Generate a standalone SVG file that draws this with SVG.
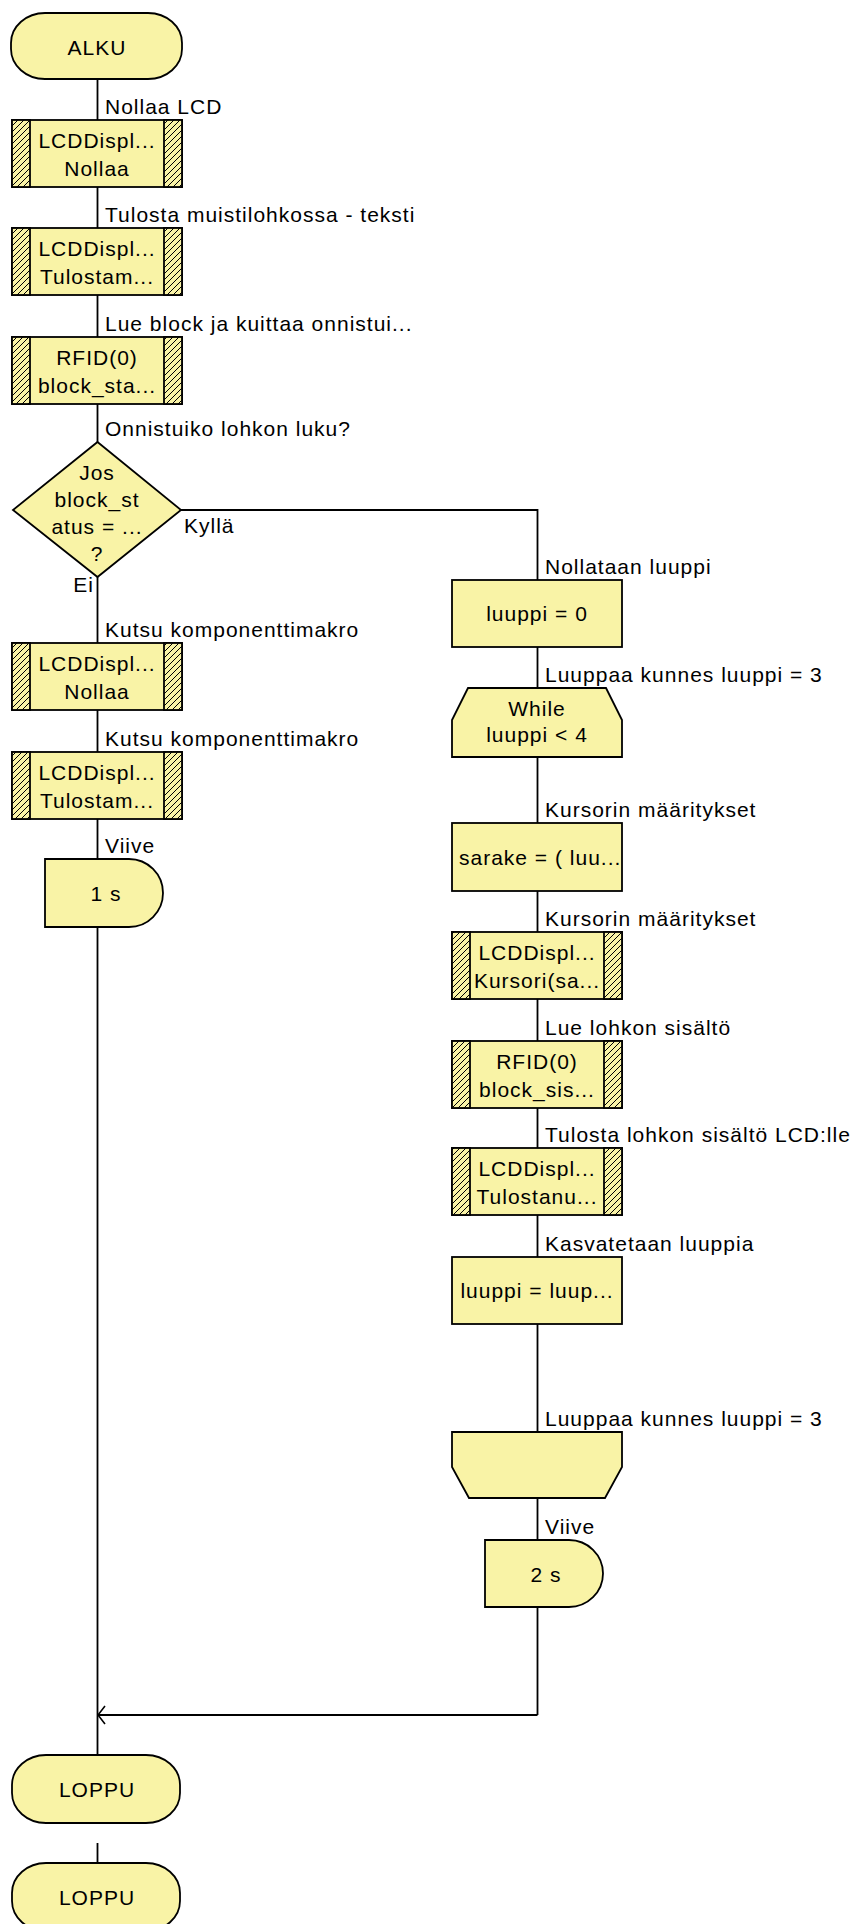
<svg xmlns="http://www.w3.org/2000/svg" width="859" height="1924" viewBox="0 0 859 1924">
<style>
.t{font-family:"Liberation Sans",Arial,sans-serif;font-size:21px;letter-spacing:1px;fill:#000}
.c{text-anchor:middle}
.n{fill:#F9F3A6;stroke:#000;stroke-width:1.8}
.h{fill:url(#hatch);stroke:#000;stroke-width:1.8}
.e{fill:none;stroke:#000;stroke-width:1.8}
</style>
<defs>
<pattern id="hatch" width="6" height="6" patternUnits="userSpaceOnUse">
<rect width="6" height="6" fill="#F9F3A6"/>
<path d="M0,6 L6,0 M-1,1 L1,-1 M5,7 L7,5" stroke="#000" stroke-width="1"/>
</pattern>
<marker id="arr" markerUnits="userSpaceOnUse" markerWidth="10" markerHeight="20" viewBox="0 0 10 20" refX="10" refY="10" orient="auto">
<path d="M3,1 L10,10 L3,19" fill="none" stroke="#000" stroke-width="1.6"/>
</marker>
</defs>
<rect width="859" height="1924" fill="#fff"/>

<g id="connectors" class="e">
<path d="M97.5,79 V120 M97.5,187 V228 M97.5,295 V337 M97.5,404 V442 M97.5,577 V643 M97.5,710 V752 M97.5,819 V859 M97.5,927 V1755 M97.5,1843 V1863"/>
<path d="M181,510 H537.5 V580 M537.5,647 V688 M537.5,757 V823 M537.5,891 V932 M537.5,999 V1041 M537.5,1108 V1148 M537.5,1215 V1257 M537.5,1324 V1432 M537.5,1498 V1540 M537.5,1607 V1715"/>
<path d="M537.5,1715 H98" marker-end="url(#arr)"/>
</g>

<g id="labels" class="t">
<text x="105" y="114">Nollaa LCD</text>
<text x="105" y="222">Tulosta muistilohkossa - teksti</text>
<text x="105" y="331">Lue block ja kuittaa onnistui...</text>
<text x="105" y="436">Onnistuiko lohkon luku?</text>
<text x="184" y="533">Kyllä</text>
<text x="94" y="592" text-anchor="end">Ei</text>
<text x="105" y="637">Kutsu komponenttimakro</text>
<text x="105" y="746">Kutsu komponenttimakro</text>
<text x="105" y="853">Viive</text>
<text x="545" y="574">Nollataan luuppi</text>
<text x="545" y="682">Luuppaa kunnes luuppi = 3</text>
<text x="545" y="817">Kursorin määritykset</text>
<text x="545" y="926">Kursorin määritykset</text>
<text x="545" y="1035">Lue lohkon sisältö</text>
<text x="545" y="1142">Tulosta lohkon sisältö LCD:lle</text>
<text x="545" y="1251">Kasvatetaan luuppia</text>
<text x="545" y="1426">Luuppaa kunnes luuppi = 3</text>
<text x="545" y="1534">Viive</text>
</g>

<g id="alku">
<rect class="n" x="11" y="13" width="171" height="66" rx="34" ry="30"/>
<text class="t c" x="97" y="55">ALKU</text>
</g>

<g id="call1">
<rect class="n" x="12" y="120" width="170" height="67"/>
<rect class="h" x="12" y="120" width="18" height="67"/>
<rect class="h" x="164" y="120" width="18" height="67"/>
<text class="t c" x="97" y="148">LCDDispl...</text>
<text class="t c" x="97" y="176">Nollaa</text>
</g>

<g id="call2">
<rect class="n" x="12" y="228" width="170" height="67"/>
<rect class="h" x="12" y="228" width="18" height="67"/>
<rect class="h" x="164" y="228" width="18" height="67"/>
<text class="t c" x="97" y="256">LCDDispl...</text>
<text class="t c" x="97" y="284">Tulostam...</text>
</g>

<g id="call3">
<rect class="n" x="12" y="337" width="170" height="67"/>
<rect class="h" x="12" y="337" width="18" height="67"/>
<rect class="h" x="164" y="337" width="18" height="67"/>
<text class="t c" x="97" y="365">RFID(0)</text>
<text class="t c" x="97" y="393">block_sta...</text>
</g>

<g id="decision">
<polygon class="n" points="97.5,442 181,510 97.5,577 13,510"/>
<text class="t c" x="97" y="480">Jos</text>
<text class="t c" x="97" y="507">block_st</text>
<text class="t c" x="97" y="534">atus = ...</text>
<text class="t c" x="97" y="561">?</text>
</g>

<g id="call4">
<rect class="n" x="12" y="643" width="170" height="67"/>
<rect class="h" x="12" y="643" width="18" height="67"/>
<rect class="h" x="164" y="643" width="18" height="67"/>
<text class="t c" x="97" y="671">LCDDispl...</text>
<text class="t c" x="97" y="699">Nollaa</text>
</g>

<g id="call5">
<rect class="n" x="12" y="752" width="170" height="67"/>
<rect class="h" x="12" y="752" width="18" height="67"/>
<rect class="h" x="164" y="752" width="18" height="67"/>
<text class="t c" x="97" y="780">LCDDispl...</text>
<text class="t c" x="97" y="808">Tulostam...</text>
</g>

<g id="delay1">
<path class="n" d="M45,859 H129 A34,34 0 0 1 129,927 H45 Z"/>
<text class="t c" x="106" y="901">1 s</text>
</g>

<g id="loppu1">
<rect class="n" x="12" y="1755" width="168" height="68" rx="34" ry="30"/>
<text class="t c" x="97" y="1797">LOPPU</text>
</g>

<g id="loppu2">
<rect class="n" x="12" y="1863" width="168" height="68" rx="34" ry="30"/>
<text class="t c" x="97" y="1905">LOPPU</text>
</g>

<g id="calc1">
<rect class="n" x="452" y="580" width="170" height="67"/>
<text class="t c" x="537" y="621">luuppi = 0</text>
</g>

<g id="while">
<path class="n" d="M468,688 H606 L622,720 V757 H452 V720 Z"/>
<text class="t c" x="537" y="716">While</text>
<text class="t c" x="537" y="742">luuppi &lt; 4</text>
</g>

<g id="calc2">
<rect class="n" x="452" y="823" width="170" height="68"/>
<text class="t" x="459" y="865">sarake = ( luu...</text>
</g>

<g id="call6">
<rect class="n" x="452" y="932" width="170" height="67"/>
<rect class="h" x="452" y="932" width="18" height="67"/>
<rect class="h" x="604" y="932" width="18" height="67"/>
<text class="t c" x="537" y="960">LCDDispl...</text>
<text class="t c" x="537" y="988">Kursori(sa...</text>
</g>

<g id="call7">
<rect class="n" x="452" y="1041" width="170" height="67"/>
<rect class="h" x="452" y="1041" width="18" height="67"/>
<rect class="h" x="604" y="1041" width="18" height="67"/>
<text class="t c" x="537" y="1069">RFID(0)</text>
<text class="t c" x="537" y="1097">block_sis...</text>
</g>

<g id="call8">
<rect class="n" x="452" y="1148" width="170" height="67"/>
<rect class="h" x="452" y="1148" width="18" height="67"/>
<rect class="h" x="604" y="1148" width="18" height="67"/>
<text class="t c" x="537" y="1176">LCDDispl...</text>
<text class="t c" x="537" y="1204">Tulostanu...</text>
</g>

<g id="calc3">
<rect class="n" x="452" y="1257" width="170" height="67"/>
<text class="t c" x="537" y="1298">luuppi = luup...</text>
</g>

<g id="loopend">
<path class="n" d="M452,1432 H622 V1467 L605,1498 H469 L452,1467 Z"/>
</g>

<g id="delay2">
<path class="n" d="M485,1540 H569 A34,33.5 0 0 1 569,1607 H485 Z"/>
<text class="t c" x="546" y="1582">2 s</text>
</g>
</svg>
